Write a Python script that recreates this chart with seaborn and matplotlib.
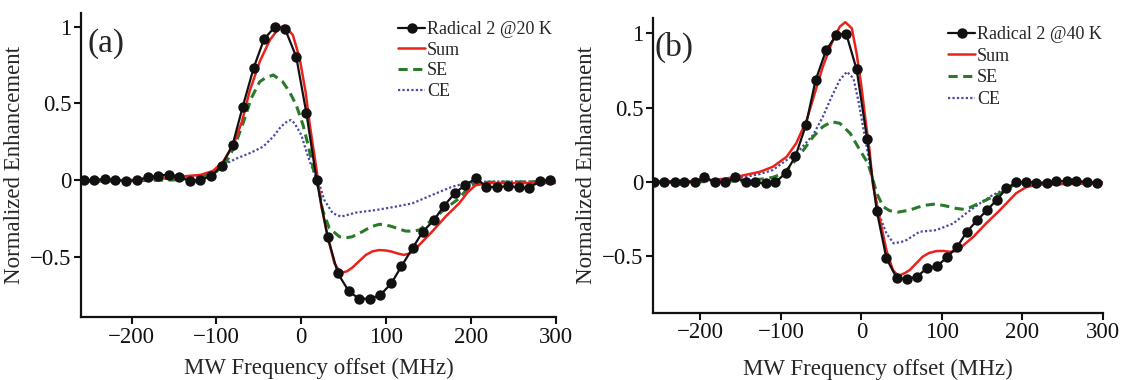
import numpy as np
import pandas as pd
import matplotlib
matplotlib.use("Agg")
import matplotlib.pyplot as plt
import seaborn as sns

# ---------------- data: panel (a) 20 K ----------------
a_exp_x = [-256, -244, -231, -219, -206, -194, -181, -169, -156, -144, -131, -119, -106, -94,
           -81, -69, -56, -44, -31, -19, -6, 6, 18, 31, 43, 56, 68, 81, 93, 106, 118, 131,
           143, 156, 168, 181, 193, 206, 218, 231, 243, 256, 268, 281, 293]
a_exp_y = [0.0, 0.0, 0.007, 0.0, -0.007, 0.0, 0.017, 0.028, 0.035, 0.022, -0.007, 0.0, 0.026, 0.093,
           0.228, 0.478, 0.733, 0.917, 1.0, 0.983, 0.804, 0.435, 0.0, -0.37, -0.609, -0.726, -0.774,
           -0.774, -0.75, -0.675, -0.562, -0.445, -0.338, -0.263, -0.17, -0.085, -0.033, 0.011,
           -0.043, -0.048, -0.039, -0.048, -0.054, -0.007, 0.0]

a_sum_x = [-260, -200, -160, -143, -119, -104, -92, -80, -70, -61, -49, -37, -26, -20, -10, -2, 5,
           10, 18, 23, 31, 39, 44, 49, 54, 60, 68, 76, 84, 92, 100, 107, 114, 121, 128, 135, 154,
           170, 186, 196, 205, 220, 260, 300]
a_sum_y = [-0.005, 0.0, 0.01, 0.022, 0.033, 0.059, 0.12, 0.228, 0.38, 0.576, 0.772, 0.913, 0.993,
           1.007, 0.946, 0.794, 0.576, 0.359, 0.065, -0.152, -0.37, -0.543, -0.585, -0.603, -0.595,
           -0.572, -0.53, -0.489, -0.465, -0.457, -0.46, -0.468, -0.48, -0.489, -0.478, -0.446,
           -0.337, -0.239, -0.152, -0.08, -0.035, -0.02, -0.02, -0.02]

a_se_x = [-260, -200, -150, -119, -100, -88, -78, -68, -59, -49, -43, -33, -22, -14, -6, 2, 8, 12,
          17, 21, 25, 33, 45, 52, 60, 72, 82, 92, 100, 107, 115, 123, 131, 139, 154, 170, 186, 200,
          215, 300]
a_se_y = [-0.01, -0.005, 0.0, 0.017, 0.054, 0.12, 0.228, 0.38, 0.533, 0.641, 0.663, 0.685, 0.641,
          0.576, 0.489, 0.359, 0.228, 0.13, 0.0, -0.065, -0.196, -0.315, -0.37, -0.378, -0.37,
          -0.337, -0.305, -0.289, -0.294, -0.304, -0.32, -0.333, -0.334, -0.326, -0.261, -0.185,
          -0.12, -0.03, -0.015, -0.01]

a_ce_x = [-260, -200, -150, -120, -107, -92, -76, -61, -45, -33, -24, -16, -12, -8, 0, 6, 12, 17,
          21, 27, 37, 47, 64, 88, 111, 131, 154, 178, 195, 220, 300]
a_ce_y = [-0.005, 0.0, 0.01, 0.025, 0.043, 0.098, 0.141, 0.174, 0.217, 0.283, 0.348, 0.385, 0.391,
          0.37, 0.294, 0.185, 0.09, 0.02, -0.022, -0.13, -0.217, -0.239, -0.213, -0.196, -0.174,
          -0.152, -0.098, -0.043, -0.02, -0.01, -0.01]

# ---------------- data: panel (b) 40 K ----------------
b_exp_x = [-258, -245, -232, -220, -207, -195, -182, -169, -157, -144, -132, -119, -107, -94,
           -82, -69, -57, -44, -31, -19, -6, 7, 19, 31, 44, 56, 69, 81, 94, 106, 119, 131,
           144, 156, 168, 180, 192, 205, 217, 230, 242, 255, 267, 280, 292]
b_exp_y = [0.0, 0.0, 0.0, 0.0, 0.0, 0.03, 0.0, -0.004, 0.03, 0.0, -0.005, -0.01, -0.005, 0.06,
           0.172, 0.381, 0.683, 0.885, 0.99, 0.998, 0.757, 0.29, -0.195, -0.516, -0.651, -0.655,
           -0.64, -0.584, -0.568, -0.51, -0.438, -0.337, -0.258, -0.191, -0.123, -0.045, -0.005,
           0.0, -0.007, -0.007, 0.004, 0.004, 0.004, 0.0, -0.007]

b_sum_x = [-260, -200, -170, -151, -126, -110, -93, -81, -68, -58, -48, -37, -27, -20, -12, -6, 0,
           5, 10, 14, 23, 31, 39, 44, 48, 54, 60, 68, 76, 84, 93, 101, 110, 116, 122, 139, 155,
           172, 192, 205, 220, 260, 300]
b_sum_y = [0.0, 0.005, 0.02, 0.038, 0.067, 0.101, 0.168, 0.259, 0.416, 0.596, 0.775, 0.933, 1.044,
           1.075, 1.034, 0.865, 0.64, 0.416, 0.214, -0.011, -0.258, -0.46, -0.595, -0.625, -0.63,
           -0.615, -0.595, -0.55, -0.505, -0.48, -0.467, -0.466, -0.472, -0.468, -0.449, -0.371,
           -0.28, -0.191, -0.078, -0.035, -0.02, -0.015, -0.01]

b_se_x = [-260, -200, -150, -120, -110, -97, -85, -72, -60, -48, -37, -27, -14, -2, 8, 12, 19, 27,
          35, 45, 60, 70, 81, 92, 104, 118, 127, 135, 155, 176, 192, 210, 300]
b_se_y = [-0.005, 0.0, 0.005, 0.02, 0.03, 0.056, 0.124, 0.214, 0.303, 0.371, 0.404, 0.394, 0.326,
          0.214, 0.124, 0.056, -0.078, -0.168, -0.195, -0.205, -0.191, -0.172, -0.157, -0.15,
          -0.162, -0.18, -0.186, -0.173, -0.123, -0.067, -0.011, -0.01, -0.005]

b_ce_x = [-260, -200, -170, -151, -126, -110, -93, -77, -60, -48, -37, -27, -18, -10, -4, 2, 8, 16,
          23, 31, 40, 50, 56, 72, 93, 114, 130, 147, 163, 180, 195, 220, 300]
b_ce_y = [-0.005, 0.0, 0.01, 0.025, 0.052, 0.079, 0.146, 0.214, 0.315, 0.438, 0.573, 0.685, 0.741,
          0.697, 0.551, 0.371, 0.191, -0.056, -0.236, -0.348, -0.415, -0.405, -0.393, -0.337,
          -0.326, -0.281, -0.213, -0.146, -0.09, -0.045, -0.015, -0.01, -0.005]

x_ticks = [-200, -100, 0, 100, 200, 300]
x_tick_labels = ["\u2212200", "\u2212100", "0", "100", "200", "300"]
y_ticks = [-0.5, 0, 0.5, 1]
y_tick_labels = ["\u22120.5", "0", "0.5", "1"]
legend_labels = [["Radical 2 @20 K", "Sum", "SE", "CE"],
                 ["Radical 2 @40 K", "Sum", "SE", "CE"]]
panel_labels = ["(a)", "(b)"]

# ---------------- styling ----------------
sns.set_style("ticks")
plt.rcParams["font.family"] = "serif"
plt.rcParams["font.serif"] = ["Liberation Serif", "Times New Roman", "Nimbus Roman", "DejaVu Serif"]

RED = "#e8231c"
GREEN = "#2b7a2b"
BLUE = "#4b4ba6"
BLACK = "#111111"

fig = plt.figure(figsize=(11.25, 3.8), dpi=100)
ax_a = fig.add_axes([0.0724, 0.166, 0.4218, 0.8006])
ax_b = fig.add_axes([0.5804, 0.1776, 0.400, 0.7742])

panels = [
    (ax_a, a_exp_x, a_exp_y, a_sum_x, a_sum_y, a_se_x, a_se_y, a_ce_x, a_ce_y, (-0.893, 1.091)),
    (ax_b, b_exp_x, b_exp_y, b_sum_x, b_sum_y, b_se_x, b_se_y, b_ce_x, b_ce_y, (-0.881, 1.101)),
]

legend_pos = [(398 / 1125, 1 - 21 / 380), (948 / 1125, 1 - 26 / 380)]
legend_spacing = [0.2, 0.26]
panel_pos = [(0.012, 0.95), (0.004, 0.955)]
ylab_x = [-0.118, -0.125]
xlab_y = [-0.135, -0.157]

for i, (ax, ex, ey, sx, sy, sex, sey, cx, cy, ylim) in enumerate(panels):
    sns.lineplot(x=cx, y=cy, ax=ax, color=BLUE, lw=1.6, linestyle=(0, (1, 1)),
                 label=legend_labels[i][3], sort=False, legend=False)
    sns.lineplot(x=sex, y=sey, ax=ax, color=GREEN, lw=2.2, linestyle=(0, (3, 1.8)),
                 label=legend_labels[i][2], sort=False, legend=False)
    sns.lineplot(x=sx, y=sy, ax=ax, color=RED, lw=1.8,
                 label=legend_labels[i][1], sort=False, legend=False)
    sns.lineplot(x=ex, y=ey, ax=ax, color=BLACK, lw=1.6, marker="o", markersize=7.5,
                 markeredgewidth=0, label=legend_labels[i][0], sort=False, legend=False)

    ax.set_xlim(-259, 299)
    ax.set_ylim(*ylim)
    ax.set_xticks(x_ticks)
    ax.set_xticklabels(x_tick_labels)
    ax.set_yticks(y_ticks)
    ax.set_yticklabels(y_tick_labels)
    for side in ["top", "right"]:
        ax.spines[side].set_visible(False)
    for side in ["left", "bottom"]:
        ax.spines[side].set_linewidth(1.6)
        ax.spines[side].set_color(BLACK)
    ax.tick_params(direction="out", length=5, width=1.5, labelsize=16.5, pad=2, colors=BLACK)
    ax.set_xlabel("MW Frequency offset (MHz)", fontsize=16.5)
    ax.set_ylabel("Normalized Enhancement", fontsize=16.5)
    ax.xaxis.set_label_coords(0.5, xlab_y[i])
    ax.yaxis.set_label_coords(ylab_x[i], 0.5)
    ax.patch.set_alpha(0)

    ax.text(panel_pos[i][0], panel_pos[i][1], panel_labels[i], transform=ax.transAxes,
            fontsize=24, ha="left", va="top")

    lines = ax.get_lines()
    handles = [lines[3], lines[2], lines[1], lines[0]]
    ax.legend(handles=handles, labels=legend_labels[i], loc="upper left",
              bbox_to_anchor=legend_pos[i], bbox_transform=fig.transFigure,
              frameon=False, fontsize=13, handlelength=1.5, handletextpad=0.1,
              labelspacing=legend_spacing[i], borderpad=0, borderaxespad=0, numpoints=1)

fig.savefig("out.png", dpi=100)
